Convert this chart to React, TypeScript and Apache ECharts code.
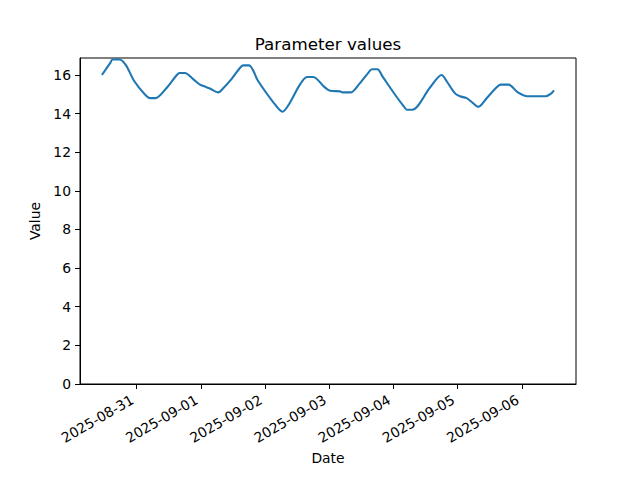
import React, { useEffect, useRef } from "react";
import * as echarts from "echarts";

const times: string[] = [
  "2025-08-30T11:00", "2025-08-30T14:00", "2025-08-30T15:00", "2025-08-30T17:30",
  "2025-08-30T20:00", "2025-08-30T23:00", "2025-08-31T03:00", "2025-08-31T05:00",
  "2025-08-31T07:00", "2025-08-31T11:00", "2025-08-31T15:00", "2025-08-31T16:00",
  "2025-08-31T18:00", "2025-08-31T21:00", "2025-08-31T23:40", "2025-09-01T01:30",
  "2025-09-01T03:20", "2025-09-01T06:30", "2025-09-01T08:15", "2025-09-01T11:30",
  "2025-09-01T14:30", "2025-09-01T15:45", "2025-09-01T18:00", "2025-09-01T21:20",
  "2025-09-02T03:00", "2025-09-02T06:30", "2025-09-02T09:00", "2025-09-02T13:00",
  "2025-09-02T15:40", "2025-09-02T18:00", "2025-09-02T22:00", "2025-09-03T00:00",
  "2025-09-03T04:00", "2025-09-03T05:00", "2025-09-03T08:00", "2025-09-03T11:00",
  "2025-09-03T14:30", "2025-09-03T16:00", "2025-09-03T18:00", "2025-09-03T20:00",
  "2025-09-04T01:00", "2025-09-04T04:00", "2025-09-04T05:00", "2025-09-04T07:00",
  "2025-09-04T13:40", "2025-09-04T18:00", "2025-09-04T20:00", "2025-09-04T23:00",
  "2025-09-05T00:50", "2025-09-05T03:20", "2025-09-05T05:15", "2025-09-05T07:40",
  "2025-09-05T10:50", "2025-09-05T14:30", "2025-09-05T16:00", "2025-09-05T19:00",
  "2025-09-05T22:30", "2025-09-06T02:00", "2025-09-06T09:00", "2025-09-06T11:00",
  "2025-09-06T12:00",
];

const values: number[] = [
  16.0, 16.6, 16.8, 16.8,
  16.5, 15.7, 15.0, 14.8,
  14.8, 15.3, 16.0, 16.1,
  16.1, 15.8, 15.5, 15.4,
  15.3, 15.1, 15.3, 15.8,
  16.35, 16.5, 16.5, 15.7,
  14.6, 14.1, 14.5, 15.5,
  15.9, 15.9, 15.4, 15.2,
  15.15, 15.1, 15.1, 15.5,
  16.1, 16.3, 16.3, 15.9,
  14.9, 14.35, 14.2, 14.2,
  15.35, 16.0, 15.65, 15.05,
  14.9, 14.8, 14.6, 14.35,
  14.8, 15.35, 15.5, 15.5,
  15.1, 14.9, 14.9, 15.05,
  15.2,
];

const dayTicks: string[] = [
  "2025-08-31T00:00", "2025-09-01T00:00", "2025-09-02T00:00", "2025-09-03T00:00",
  "2025-09-04T00:00", "2025-09-05T00:00", "2025-09-06T00:00",
];

const yTicks: number[] = [0, 2, 4, 6, 8, 10, 12, 14, 16];

const X_MIN = "2025-08-30T02:48";
const X_MAX = "2025-09-06T20:14";
const Y_MAX = 16.88;

const FONT = "DejaVu Sans";

function pad(n: number): string {
  return n < 10 ? "0" + n : String(n);
}

export default function App() {
  const ref = useRef<HTMLDivElement>(null);

  useEffect(() => {
    document.body.style.margin = "0";
    const chart = echarts.init(ref.current!, null, { renderer: "svg" });
    const ts = (s: string) => new Date(s).getTime();
    const data = times.map((t, i) => [ts(t), values[i]]);

    chart.setOption({
      animation: false,
      backgroundColor: "#ffffff",
      textStyle: { fontFamily: FONT },
      grid: {
        left: 80,
        right: 64,
        top: 58,
        bottom: 96,
        show: true,
        borderColor: "#000",
        borderWidth: 1,
        backgroundColor: "transparent",
      },
      graphic: [
        {
          type: "text",
          x: 328,
          y: 44,
          style: {
            text: "Parameter values",
            align: "center",
            verticalAlign: "middle",
            fontFamily: FONT,
            fontSize: 16.7,
            fill: "#000",
          },
        },
      ],
      xAxis: {
        type: "value",
        min: ts(X_MIN),
        max: ts(X_MAX),
        name: "Date",
        nameLocation: "middle",
        nameGap: 66,
        nameTextStyle: { fontFamily: FONT, fontSize: 13.9, color: "#000" },
        axisLine: { show: true, lineStyle: { color: "#000", width: 1 } },
        axisTick: {
          show: true,
          length: 5,
          lineStyle: { color: "#000", width: 1 },
          customValues: dayTicks.map(ts),
        },
        splitLine: { show: false },
        axisLabel: {
          rotate: 30,
          margin: 12,
          padding: [0, 5, 0, 0],
          fontFamily: FONT,
          fontSize: 13.9,
          color: "#000",
          customValues: dayTicks.map(ts),
          formatter: (v: number) => {
            const d = new Date(v);
            return d.getFullYear() + "-" + pad(d.getMonth() + 1) + "-" + pad(d.getDate());
          },
        },
      },
      yAxis: {
        type: "value",
        min: 0,
        max: Y_MAX,
        name: "Value",
        nameLocation: "middle",
        nameGap: 36,
        nameTextStyle: { fontFamily: FONT, fontSize: 13.9, color: "#000" },
        axisLine: { show: true, lineStyle: { color: "#000", width: 1 } },
        axisTick: {
          show: true,
          length: 5,
          lineStyle: { color: "#000", width: 1 },
          customValues: yTicks,
        },
        splitLine: { show: false },
        axisLabel: {
          margin: 9,
          fontFamily: FONT,
          fontSize: 13.9,
          color: "#000",
          customValues: yTicks,
        },
      },
      series: [
        {
          type: "line",
          data,
          showSymbol: false,
          symbol: "none",
          smooth: 0.3,
          lineStyle: { color: "#1f77b4", width: 2.1 },
          itemStyle: { color: "#1f77b4" },
        },
      ],
    });

    return () => chart.dispose();
  }, []);

  return <div ref={ref} style={{ width: 640, height: 480 }} />;
}
